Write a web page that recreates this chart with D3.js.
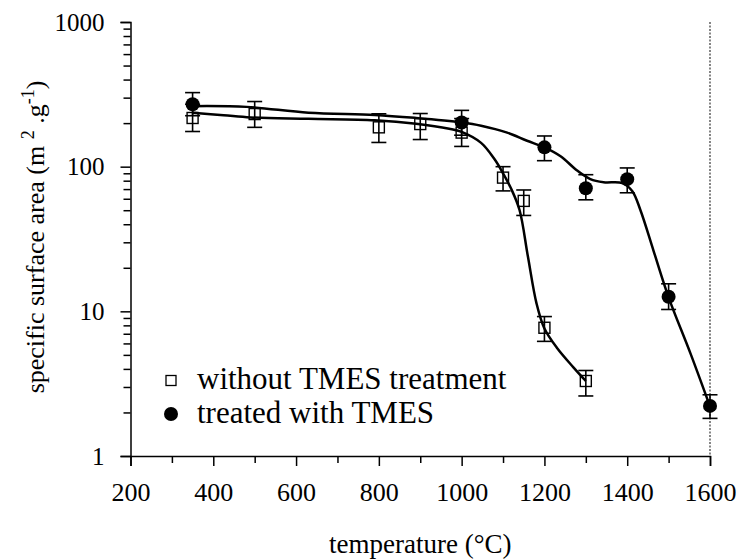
<!DOCTYPE html>
<html>
<head>
<meta charset="utf-8">
<script src="https://cdn.jsdelivr.net/npm/d3@7"></script>
<style>
  html, body { margin: 0; padding: 0; background: #fff; }
  svg { display: block; }
  text { font-family: "Liberation Serif", "Times New Roman", "DejaVu Serif", serif; fill: #000; }
</style>
</head>
<body>
<svg id="chart" width="740" height="560"></svg>
<script>
// ---------- data ----------
const xTickValues = [200, 400, 600, 800, 1000, 1200, 1400, 1600];
const xMinorTicks = [300, 500, 700, 900, 1100, 1300, 1500];
const yTickValues = [1, 10, 100, 1000];

// without TMES treatment (open squares)
const untreatedT    = [350, 500, 800, 900, 1000, 1100, 1150, 1200, 1300];
const untreatedVal  = [217, 231, 187, 197, 172, 84, 58, 7.7, 3.3];
const untreatedLow  = [175, 187, 147, 154, 138, 68, 46, 6.2, 2.6];
const untreatedHigh = [270, 282, 232, 233, 215, 100, 69, 9.2, 3.9];

// treated with TMES (filled circles)
const treatedT    = [350, 1000, 1200, 1300, 1400, 1500, 1600];
const treatedVal  = [270, 202, 136, 71, 82, 12.6, 2.22];
const treatedLow  = [225, 165, 110, 59, 66, 10.3, 1.82];
const treatedHigh = [325, 245, 163, 88, 98, 15.5, 2.65];

// fitted (smooth) curves as drawn in the figure
const untreatedFitT = [350, 425, 490, 630, 790, 890, 970, 1000, 1047, 1080, 1100, 1120, 1140, 1160, 1181, 1200, 1230, 1270, 1300];
const untreatedFitV = [236, 227, 219, 214, 209, 198, 183, 174, 146, 112, 90, 70, 50, 24, 11.3, 7.6, 5.6, 4.1, 3.3];
const treatedFitT = [350, 480, 630, 790, 890, 1000, 1047, 1110, 1158, 1200, 1239, 1279, 1311, 1343, 1388, 1412, 1432, 1464, 1500, 1553, 1600];
const treatedFitV = [262, 259, 236, 228, 217, 202, 192, 172, 151, 136, 118, 94, 82, 78, 77, 68, 50, 26, 12.5, 5.1, 2.2];

const legendLabels = ["without TMES treatment", "treated with TMES"];

// ---------- layout ----------
const svg = d3.select("#chart");
const mLeft = 130.5, mRight = 710, mTop = 22, mBottom = 456;

const x = d3.scaleLinear().domain([200, 1600]).range([mLeft, mRight]);
const y = d3.scaleLog().domain([1, 1000]).range([mBottom, mTop]);

// right border (dotted)
svg.append("line")
  .attr("x1", mRight).attr("x2", mRight).attr("y1", mTop).attr("y2", mBottom)
  .attr("stroke", "#444").attr("stroke-width", 1.3).attr("stroke-dasharray", "2,1.5");

// ---------- axes ----------
const gx = svg.append("g").attr("transform", `translate(0,${mBottom})`)
  .call(d3.axisBottom(x).tickValues(xTickValues).tickSize(10).tickPadding(17).tickFormat(d3.format("d")));
gx.selectAll(".tick text").style("font-size", "26px");
svg.append("g").attr("transform", `translate(0,${mBottom})`)
  .call(d3.axisBottom(x).tickValues(xMinorTicks).tickSize(7).tickFormat(""))
  .select(".domain").remove();

const gy = svg.append("g").attr("transform", `translate(${mLeft},0)`)
  .call(d3.axisLeft(y).tickValues(yTickValues).tickSize(10).tickPadding(16).tickFormat(d3.format("d")));
gy.selectAll(".tick text").style("font-size", "25px");
const yMinor = [];
[1, 10, 100].forEach(dec => { for (let k = 2; k <= 9; k++) yMinor.push(dec * k); });
svg.append("g").attr("transform", `translate(${mLeft},0)`)
  .call(d3.axisLeft(y).tickValues(yMinor).tickSize(7).tickFormat(""))
  .select(".domain").remove();

svg.selectAll(".domain").attr("stroke", "#000").attr("stroke-width", 1.5);
svg.selectAll(".tick line").attr("stroke", "#000").attr("stroke-width", 1.5);
svg.selectAll(".tick text")
  .style("font-family", "'Liberation Serif', 'Times New Roman', serif")
  .attr("fill", "#000");

// axis titles
svg.append("text")
  .attr("x", (mLeft + mRight) / 2).attr("y", 553)
  .attr("text-anchor", "middle")
  .style("font-size", "27px")
  .text("temperature (°C)");

const yt = svg.append("text")
  .attr("transform", `translate(44,237) rotate(-90)`)
  .attr("text-anchor", "middle")
  .style("font-size", "26px");
yt.append("tspan").text("specific surface area (m ");
yt.append("tspan").attr("dy", -10).style("font-size", "18px").text("2");
yt.append("tspan").attr("dy", 10).text(" .g");
yt.append("tspan").attr("dy", -10).style("font-size", "18px").text("-1");
yt.append("tspan").attr("dy", 10).text(")");

// ---------- curves ----------
const line = d3.line()
  .x(d => x(d[0])).y(d => y(d[1]))
  .curve(d3.curveCatmullRom.alpha(0.5));

svg.append("path")
  .datum(untreatedFitT.map((t, i) => [t, untreatedFitV[i]]))
  .attr("d", line).attr("fill", "none").attr("stroke", "#000").attr("stroke-width", 2.5);
svg.append("path")
  .datum(treatedFitT.map((t, i) => [t, treatedFitV[i]]))
  .attr("d", line).attr("fill", "none").attr("stroke", "#000").attr("stroke-width", 2.5);

// ---------- error bars ----------
function errorBars(ts, lows, highs) {
  const g = svg.append("g").attr("stroke", "#000").attr("stroke-width", 1.6);
  ts.forEach((t, i) => {
    const cx = x(t);
    g.append("line").attr("x1", cx).attr("x2", cx).attr("y1", y(lows[i])).attr("y2", y(highs[i]));
    g.append("line").attr("x1", cx - 7.5).attr("x2", cx + 7.5).attr("y1", y(lows[i])).attr("y2", y(lows[i]));
    g.append("line").attr("x1", cx - 7.5).attr("x2", cx + 7.5).attr("y1", y(highs[i])).attr("y2", y(highs[i]));
  });
}
errorBars(untreatedT, untreatedLow, untreatedHigh);
errorBars(treatedT, treatedLow, treatedHigh);

// ---------- markers ----------
const sq = 11;
svg.append("g").selectAll("rect").data(untreatedT).join("rect")
  .attr("x", (t) => x(t) - sq / 2)
  .attr("y", (t, i) => y(untreatedVal[i]) - sq / 2)
  .attr("width", sq).attr("height", sq)
  .attr("fill", "none").attr("stroke", "#000").attr("stroke-width", 1.4);

svg.append("g").selectAll("circle").data(treatedT).join("circle")
  .attr("cx", t => x(t))
  .attr("cy", (t, i) => y(treatedVal[i]))
  .attr("r", 7).attr("fill", "#000");

// ---------- legend ----------
const lg = svg.append("g");
lg.append("rect").attr("x", 166).attr("y", 375.5).attr("width", 10).attr("height", 10)
  .attr("fill", "none").attr("stroke", "#000").attr("stroke-width", 1.3);
lg.append("circle").attr("cx", 171).attr("cy", 414).attr("r", 7).attr("fill", "#000");
lg.append("text").attr("x", 197).attr("y", 389).style("font-size", "31px").text(legendLabels[0]);
lg.append("text").attr("x", 197).attr("y", 423).style("font-size", "31px").text(legendLabels[1]);
</script>
</body>
</html>
